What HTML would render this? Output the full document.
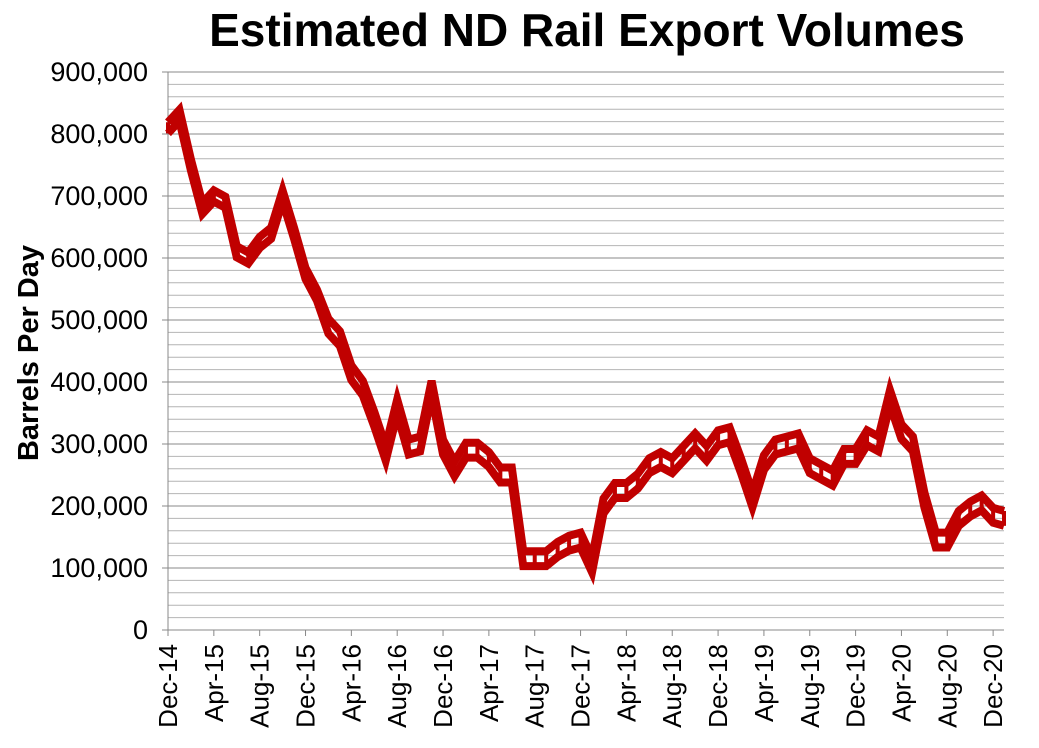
<!DOCTYPE html>
<html><head><meta charset="utf-8"><style>
body{margin:0;background:#fff}
svg{display:block;font-family:"Liberation Sans",Arial,sans-serif}
</style></head><body>
<svg id="s" width="1039" height="748" xmlns="http://www.w3.org/2000/svg">
<text x="587" y="46" font-size="46" font-weight="bold" text-anchor="middle">Estimated ND Rail Export Volumes</text>
<text transform="translate(38,353) rotate(-90)" font-size="29" font-weight="bold" text-anchor="middle">Barrels Per Day</text>
<g id="g"></g>
</svg>
<script>
var g=document.getElementById('g'),h='';
var L=168,R=1004,T=72,B=630;
for(var i=0;i<=45;i++){var y=B-i*12.4;var maj=i%5==0;
 if(i>0)h+='<line x1="'+L+'" x2="'+R+'" y1="'+y+'" y2="'+y+'" stroke="'+(maj?'#888':'#b4b4b4')+'" stroke-width="1"/>';}
var yl=['0','100,000','200,000','300,000','400,000','500,000','600,000','700,000','800,000','900,000'];
for(var i=0;i<10;i++){var y=B-i*62;h+='<text x="148" y="'+(y+9)+'" font-size="27" text-anchor="end">'+yl[i]+'</text>';h+='<line x1="162" x2="168" y1="'+y+'" y2="'+y+'" stroke="#888"/>';}
h+='<line x1="'+L+'" x2="'+L+'" y1="'+T+'" y2="'+B+'" stroke="#888"/>';
h+='<line x1="'+L+'" x2="'+R+'" y1="'+B+'" y2="'+B+'" stroke="#888"/>';
var xl=['Dec-14','Apr-15','Aug-15','Dec-15','Apr-16','Aug-16','Dec-16','Apr-17','Aug-17','Dec-17','Apr-18','Aug-18','Dec-18','Apr-19','Aug-19','Dec-19','Apr-20','Aug-20','Dec-20'];
var sp=11.46;
for(var i=0;i<xl.length;i++){var x=L+i*4*sp;
 h+='<line x1="'+x+'" x2="'+x+'" y1="'+B+'" y2="'+(B+6)+'" stroke="#888"/>';
 h+='<text transform="translate('+(x+9)+',644) rotate(-90)" font-size="26" text-anchor="end">'+xl[i]+'</text>';}
var c=[810,830,750,680,700,690,610,600,625,640,700,640,575,540,490,470,415,390,340,285,360,295,300,390,295,260,290,290,275,250,250,115,115,115,130,140,145,105,200,225,225,240,265,275,265,285,305,285,310,315,265,210,270,295,300,305,265,255,245,280,280,310,300,375,320,300,210,145,145,180,195,205,185,180];
var u=[],l=[],v='';
for(var i=0;i<c.length;i++){var x=L+i*sp;if(x>R)x=R;var d=(c[i]>500)?9:12;
 var yu=B-(c[i]+d)*0.62, yd=B-(c[i]-d)*0.62;u.push(x+','+yu);l.push(x+','+yd);
 v+='<line x1="'+x+'" x2="'+x+'" y1="'+yu+'" y2="'+yd+'" stroke="#c00000" stroke-width="4"/>';}
h+=v;
h+='<polyline points="'+u.join(' ')+'" fill="none" stroke="#c00000" stroke-width="8" stroke-linejoin="miter"/>';
h+='<polyline points="'+l.join(' ')+'" fill="none" stroke="#c00000" stroke-width="8" stroke-linejoin="miter"/>';
g.innerHTML=h;
</script>
</body></html>
